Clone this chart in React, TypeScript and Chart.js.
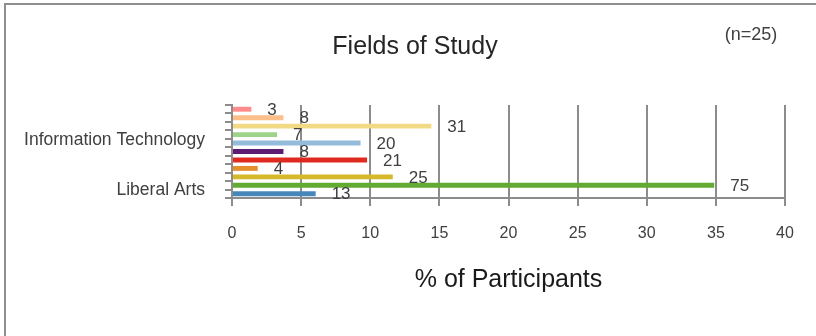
import React, { useEffect, useRef } from "react";
import { Chart, registerables } from "chart.js";

Chart.register(...registerables);

// ---- data ----
const categories = ["F1", "F2", "F3", "F4", "F5", "F6", "F7", "F8", "F9", "F10", "F11"];
const percentages = [1.4, 3.72, 14.42, 3.26, 9.3, 3.72, 9.77, 1.86, 11.63, 34.88, 6.05];
const counts = [3, 8, 31, 7, 20, 8, 21, 4, 25, 75, 13];
const barColors = [
  "#FF8B8B",
  "#FDBF8A",
  "#F2DA85",
  "#9DD38A",
  "#93BBDA",
  "#5E1B74",
  "#E02A1F",
  "#E58E2D",
  "#D6B82B",
  "#62AA31",
  "#4487B8",
];
// group labels sit on the boundary above the given category index
const fieldLabels = ["Information Technology", "Liberal Arts"];
const fieldLabelSlots = [4, 10];
const xMin = 0;
const xMax = 40;
const xStep = 5;
const chartTitle = "Fields of Study";
const sampleNote = "(n=25)";
const xTitle = "% of Participants";

const FONT = "'Liberation Sans', Arial, sans-serif";
const TEXT = "#404040";
const GRID = "#8c8c8c";

const annotations = {
  id: "annotations",
  afterDatasetsDraw(chart: any) {
    const ctx = chart.ctx;
    const meta = chart.getDatasetMeta(0);
    const yScale = chart.scales.y;
    ctx.save();
    ctx.fillStyle = TEXT;
    ctx.font = `17px ${FONT}`;
    ctx.textAlign = "left";
    ctx.textBaseline = "middle";
    meta.data.forEach((el: any, i: number) => {
      ctx.fillText(String(counts[i]), el.x + 16, el.y + 1);
    });
    // group labels on the y axis
    ctx.textAlign = "right";
    ctx.font = `17.5px ${FONT}`;
    const labelRight = chart.chartArea.left - 27;
    fieldLabels.forEach((lab, i) => {
      const s = fieldLabelSlots[i];
      const yPix = (yScale.getPixelForValue(s - 1) + yScale.getPixelForValue(s)) / 2;
      ctx.fillText(lab, labelRight, yPix + 1);
    });
    ctx.fillStyle = "#262626";
    ctx.textAlign = "center";
    ctx.font = `25px ${FONT}`;
    ctx.fillText(chartTitle, 415, 47);
    ctx.fillStyle = TEXT;
    ctx.font = `18px ${FONT}`;
    ctx.fillText(sampleNote, 751, 35);
    ctx.restore();
  },
};

export default function App() {
  const ref = useRef<HTMLCanvasElement | null>(null);

  useEffect(() => {
    if (!ref.current) return;
    const chart = new Chart(ref.current, {
      type: "bar",
      data: {
        labels: categories,
        datasets: [
          {
            data: percentages,
            backgroundColor: barColors,
            borderWidth: 0,
            categoryPercentage: 1,
            barPercentage: 0.58,
          },
        ],
      },
      plugins: [annotations],
      options: {
        indexAxis: "y",
        animation: false,
        responsive: false,
        maintainAspectRatio: false,
        layout: { padding: { top: 105, right: 31, bottom: 0, left: 224 } },
        plugins: {
          legend: { display: false },
          title: { display: false },
          tooltip: { enabled: false },
        },
        scales: {
          x: {
            type: "linear",
            position: "bottom",
            min: xMin,
            max: xMax,
            ticks: {
              stepSize: xStep,
              padding: 18,
              color: TEXT,
              font: { family: FONT, size: 16 },
            },
            grid: {
              color: GRID,
              lineWidth: 2,
              drawTicks: true,
              tickLength: 8,
            },
            border: { display: true, color: GRID, width: 2 },
            title: {
              display: true,
              text: xTitle,
              color: "#1a1a1a",
              font: { family: FONT, size: 25 },
              padding: { top: 0, bottom: 41 },
            },
            afterFit: (s: any) => {
              s.height = 138;
            },
          },
          y: {
            type: "category",
            position: "left",
            offset: true,
            ticks: { display: false },
            grid: {
              display: true,
              drawOnChartArea: false,
              drawTicks: true,
              tickLength: 7,
              offset: true,
              color: GRID,
              lineWidth: 2,
            },
            border: { display: true, color: GRID, width: 2 },
            afterFit: (s: any) => {
              s.width = 8;
            },
          },
        },
      } as any,
    });
    return () => chart.destroy();
  }, []);

  return (
    <div style={{ position: "fixed", left: 0, top: 0, width: 816, height: 336, overflow: "hidden", background: "#fff" }}>
      <div
        style={{
          position: "absolute",
          left: 4,
          top: 3,
          width: 2000,
          height: 2000,
          borderLeft: "2px solid #8f8f8f",
          borderTop: "2px solid #8f8f8f",
        }}
      />
      <canvas
        ref={ref}
        width={816}
        height={336}
        style={{ position: "absolute", left: 0, top: 0, display: "block" }}
      />
    </div>
  );
}
